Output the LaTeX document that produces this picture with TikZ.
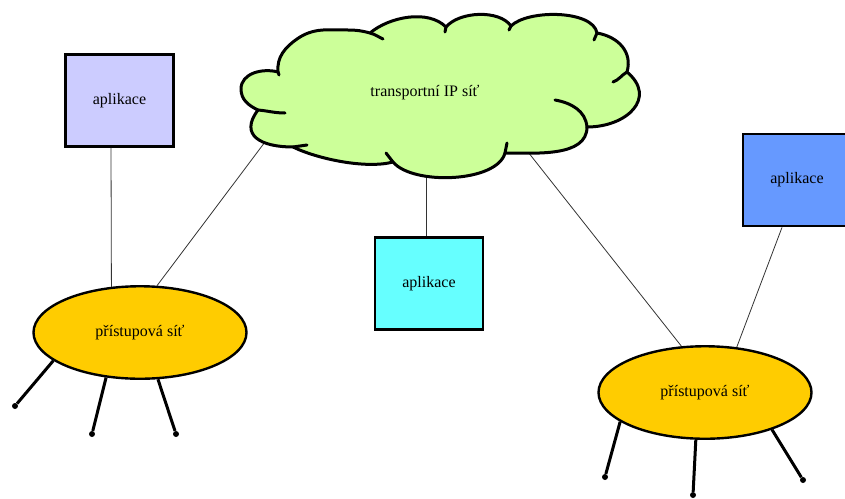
\documentclass[tikz,border=0pt]{standalone}
\usepackage{fontspec}
\setmainfont{Liberation Serif}
\usetikzlibrary{shapes.geometric}
\definecolor{appA}{HTML}{CCCCFF}
\definecolor{appB}{HTML}{66FFFF}
\definecolor{appC}{HTML}{6699FF}
\definecolor{accessfill}{HTML}{FFCC00}
\definecolor{cloudfill}{HTML}{CCFF99}
\newcommand{\labelfont}{\fontsize{16}{19}\selectfont}
\begin{document}
\begin{tikzpicture}[x=1pt,y=-1pt,
  appbox/.style={draw=black, line width=2.8pt, minimum width=108pt,
    minimum height=92pt, inner sep=0pt, font=\labelfont},
  access/.style={ellipse, draw=black, line width=2.4pt, fill=accessfill,
    minimum width=213pt, minimum height=92.5pt, inner sep=0pt, font=\labelfont},
  link/.style={draw=black!80, line width=0.8pt},
  spoke/.style={draw=black, line width=3pt},
  endpt/.style={circle, fill=black, minimum size=6pt, inner sep=0pt},
  cloudline/.style={draw=black, line width=3pt, line join=round, line cap=round},
  hook/.style={draw=black, line width=3pt, line cap=round}]
\useasboundingbox (0,0) rectangle (845,498);
\clip (0,0) rectangle (845,498);

% application boxes
\node[appbox, fill=appA] (b1) at (119.5,100.5) {aplikace};
\node[appbox, fill=appB] (b2) at (429,283.5) {aplikace};
\node[appbox, fill=appC] (b3) at (797,180) {aplikace};

% access networks
\node[access] (e1) at (140,332.5) {přístupová síť};
\node[access] (e2) at (705,392.5) {přístupová síť};

% points where the links leave the cloud
\coordinate (c1) at (268,138);
\coordinate (c2) at (426,168);
\coordinate (c3) at (528,152);

% links
\draw[link] ([xshift=-8.5pt]b1.south) -- (e1.122);
\draw[link] (c1) -- (e1.70);
\draw[link] (c2) -- ([xshift=-3pt]b2.north);
\draw[link] (c3) -- (e2.117.4);
\draw[link] ([xshift=-15pt]b3.south) -- (e2.55.7);

% transport IP network cloud, bump by bump (clockwise)
\path[cloudline, fill=cloudfill]
  (278,72)
  to[out=95, in=-145] (297,39)
  to[out=35, in=180] (348,30)
  to[out=0, in=165] (370,33)
  to[out=40, in=135, looseness=0.85] (446,27)
  to[out=50, in=125, looseness=0.8] (511,26)
  to[out=45, in=100, looseness=0.7] (597,33)
  to[out=-10, in=74, looseness=1.1] (627,72)
  to[out=-40, in=0, looseness=1.5] (587,127)
  to[out=-90, in=0, looseness=0.9] (505,153)
  to[out=-105, in=-50, looseness=0.7] (393,162)
  to[out=-165, in=-26, looseness=0.7] (293,147)
  to[out=180, in=-127, looseness=1.6] (258,110)
  to[out=155, in=-90] (241,89)
  to[out=90, in=165] (278,72)
  -- cycle;
% inner ends of the cloud arcs
\draw[hook] (370,33) to[out=-15, in=155] (383,39);
\draw[hook] (446,27) -- (445,32);
\draw[hook] (511,26) -- (509,30);
\draw[hook] (597,33) -- (594,40);
\draw[hook] (627,72) to[out=-150, in=20] (613,82);
\draw[hook] (555,100) to[out=-10, in=95] (587,127);
\draw[hook] (507,143) -- (505,153);
\draw[hook] (393,162) -- (386,153);
\draw[hook] (293,147) -- (307,145);
\draw[hook] (258,110) to[out=-5, in=180] (285,113);
\draw[hook] (278,72) -- (279,75);
\node[font=\labelfont] (ip) at (425,93) {transportní IP síť};

% end devices on the left access network
\node[endpt] (d1) at (15,406) {};
\node[endpt] (d2) at (92,434) {};
\node[endpt] (d3) at (176,434) {};
\draw[spoke] (e1.198.3) -- (d1);
\draw[spoke] (e1.233) -- (d2);
\draw[spoke] (e1.291) -- (d3);

% end devices on the right access network
\node[endpt] (d4) at (605,477) {};
\node[endpt] (d5) at (693,495) {};
\node[endpt] (d6) at (803,480) {};
\draw[spoke] (e2.199.6) -- (d4);
\draw[spoke] (e2.259) -- (d5);
\draw[spoke] (e2.331) -- (d6);
\end{tikzpicture}
\end{document}
